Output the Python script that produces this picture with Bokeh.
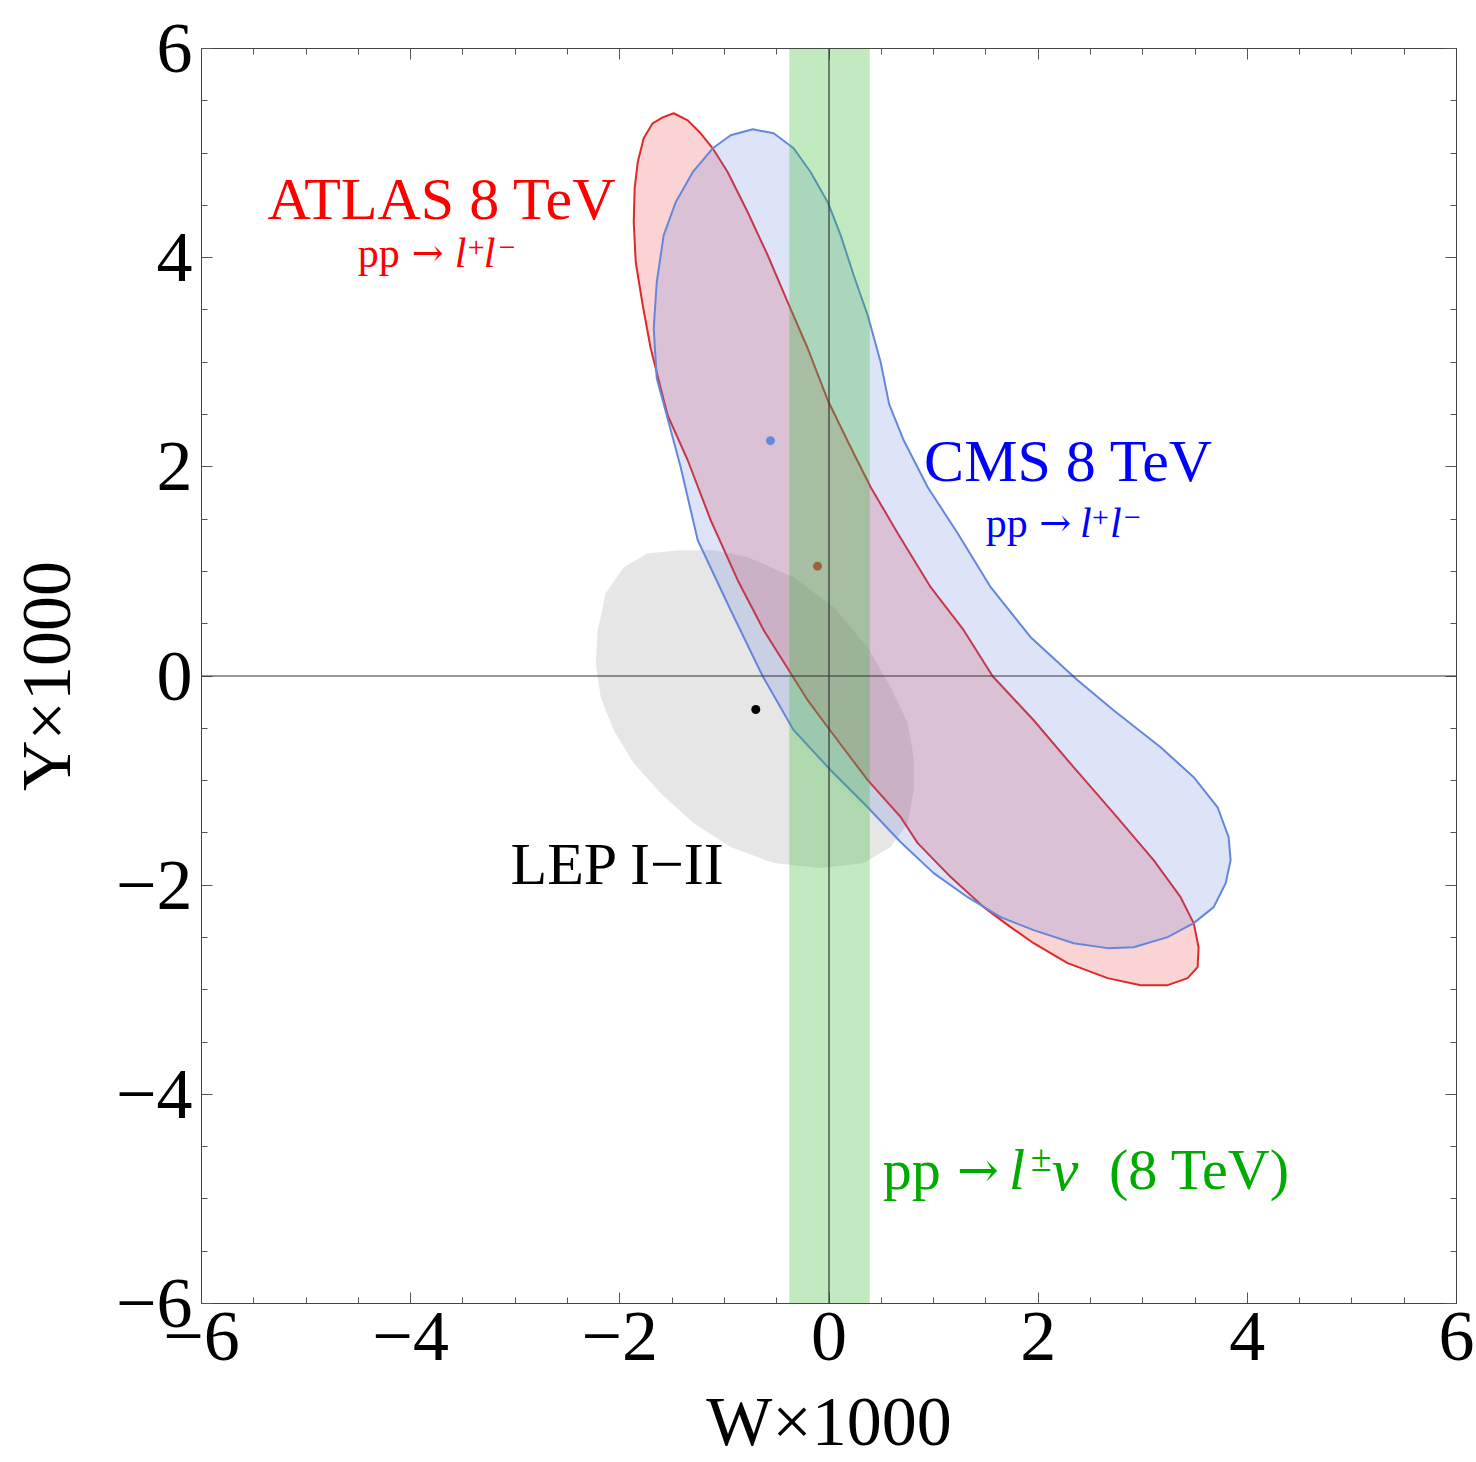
from bokeh.plotting import figure
from bokeh.models import (Range1d, FixedTicker, LinearAxis, Span, BoxAnnotation,
                          CustomLabelingPolicy)
from bokeh.core.properties import value
from bokeh.embed import file_html
from bokeh.resources import INLINE

# ---------------- data ----------------
atlas_w = [-1.485, -1.590, -1.686, -1.772, -1.829, -1.858, -1.867, -1.848, -1.781, -1.705,
           -1.609, -1.543, -1.351, -1.131, -0.873, -0.624, -0.366, -0.204, -0.012, 0.370,
           0.686, 0.848, 1.164, 1.479, 1.737, 1.957, 2.282, 2.664, 2.980, 3.238,
           3.429, 3.525, 3.534, 3.487, 3.362, 3.104, 2.721, 2.339, 1.957, 1.565,
           1.288, 0.972, 0.657, 0.399, 0.207, -0.012, -0.204, -0.395, -0.586, -0.777,
           -0.968, -1.112, -1.227, -1.351]
atlas_y = [5.381, 5.342, 5.285, 5.141, 4.912, 4.664, 4.338, 3.956, 3.545, 3.134,
           2.751, 2.493, 2.063, 1.489, 0.916, 0.438, 0.027, -0.231, -0.490, -0.996,
           -1.350, -1.598, -1.923, -2.210, -2.401, -2.555, -2.746, -2.889, -2.956, -2.956,
           -2.889, -2.784, -2.593, -2.363, -2.115, -1.761, -1.312, -0.872, -0.423, -0.002,
           0.438, 0.849, 1.365, 1.805, 2.187, 2.637, 3.134, 3.574, 4.023, 4.434,
           4.817, 5.046, 5.189, 5.313]

cms_w = [-0.729, -0.940, -1.112, -1.303, -1.466, -1.581, -1.647, -1.676, -1.647, -1.590,
         -1.418, -1.255, -0.940, -0.634, -0.338, 0.016, 0.370, 0.686, 1.001, 1.326,
         1.641, 1.957, 2.339, 2.664, 2.913, 3.238, 3.487, 3.678, 3.793, 3.840,
         3.821, 3.716, 3.487, 3.171, 2.721, 2.377, 1.928, 1.546, 1.230, 0.944,
         0.714, 0.575, 0.494, 0.370, 0.236, 0.112, -0.012, -0.175, -0.338, -0.529]
cms_y = [5.228, 5.170, 5.046, 4.817, 4.530, 4.214, 3.765, 3.325, 2.847, 2.637,
         1.996, 1.298, 0.629, -0.002, -0.518, -0.901, -1.255, -1.590, -1.885, -2.115,
         -2.306, -2.430, -2.555, -2.602, -2.593, -2.497, -2.363, -2.210, -1.981, -1.761,
         -1.541, -1.255, -0.968, -0.681, -0.327, -0.040, 0.371, 0.849, 1.365, 1.805,
         2.254, 2.600, 3.000, 3.449, 3.832, 4.214, 4.530, 4.817, 5.046, 5.189]

lep_w = [-1.418, -1.733, -1.963, -2.135, -2.211, -2.230, -2.183, -2.058, -1.867, -1.609,
         -1.294, -0.940, -0.529, -0.079, 0.332, 0.589, 0.752, 0.809, 0.809, 0.752,
         0.589, 0.370, 0.045, -0.338, -0.777, -1.103]
lep_y = [1.203, 1.174, 1.040, 0.791, 0.438, 0.122, -0.203, -0.518, -0.834, -1.121,
         -1.408, -1.636, -1.789, -1.837, -1.789, -1.636, -1.408, -1.092, -0.777, -0.452,
         -0.107, 0.275, 0.658, 0.945, 1.136, 1.203]

best_w = [-0.11, -0.56, -0.70]          # ATLAS, CMS, LEP best-fit points
best_y = [1.05, 2.25, -0.32]
best_colors = ["#c84040", "#6688dd", "#000000"]

wlnu_band = [-0.38, 0.39]               # pp -> l nu allowed W range

tick_values = [-6, -4, -2, 0, 2, 4, 6]
tick_labels = ["\u22126", "\u22124", "\u22122", "0", "2", "4", "6"]
minor_values = [-5.5, -5, -4.5, -3.5, -3, -2.5, -1.5, -1, -0.5,
                0.5, 1, 1.5, 2.5, 3, 3.5, 4.5, 5, 5.5]

FONT = value("Liberation Serif")

# ---------------- figure ----------------
p = figure(width=1476, height=1462, x_range=Range1d(-6, 6), y_range=Range1d(-6, 6),
           output_backend="svg", toolbar_location=None,
           min_border_left=201, min_border_right=20, min_border_top=48, min_border_bottom=159)
p.xgrid.visible = False
p.ygrid.visible = False
p.outline_line_color = "#444444"
p.outline_line_width = 1
p.background_fill_color = "white"
p.border_fill_color = "white"

overrides = {v: l for v, l in zip(tick_values, tick_labels)}


def style_axis(ax, show_labels):
    ax.ticker = FixedTicker(ticks=tick_values, minor_ticks=minor_values)
    ax.major_tick_in = 11
    ax.major_tick_out = 0
    ax.minor_tick_in = 6
    ax.minor_tick_out = 0
    ax.major_tick_line_color = "#555555"
    ax.minor_tick_line_color = "#555555"
    ax.axis_line_color = "#444444"
    if show_labels:
        ax.major_label_overrides = overrides
        ax.major_label_text_font = "Liberation Serif"
        ax.major_label_text_font_size = "72px"
        ax.major_label_text_color = "black"
        ax.axis_label_text_font = "Liberation Serif"
        ax.axis_label_text_font_size = "70px"
        ax.axis_label_text_font_style = "normal"
        ax.axis_label_text_color = "black"
    else:
        ax.major_label_policy = CustomLabelingPolicy(code="return []")
        ax.major_label_text_font_size = "8px"
        ax.major_label_standoff = 0


style_axis(p.xaxis[0], True)
style_axis(p.yaxis[0], True)
p.xaxis[0].axis_label = "W\u00d71000"
p.yaxis[0].axis_label = "Y\u00d71000"
p.xaxis[0].major_label_standoff = 9
p.xaxis[0].axis_label_standoff = 20
p.yaxis[0].major_label_standoff = 9
p.yaxis[0].axis_label_standoff = 28

top_ax = LinearAxis()
right_ax = LinearAxis()
style_axis(top_ax, False)
style_axis(right_ax, False)
p.add_layout(top_ax, "above")
p.add_layout(right_ax, "right")

# ---------------- regions ----------------
p.patch(lep_w, lep_y, fill_color="#808080", fill_alpha=0.2, line_color=None)
p.patch(atlas_w, atlas_y, fill_color="#e62828", fill_alpha=0.2,
        line_color="#e02828", line_width=2)
p.patch(cms_w, cms_y, fill_color="#5a78dc", fill_alpha=0.2,
        line_color="#6487dc", line_width=2)

p.scatter(best_w, best_y, size=9, fill_color=best_colors, line_color=None)


# ---------------- labels ----------------
def label(x, y, s, color, size, italic=False, align="left", font=FONT):
    p.text(x=[x], y=[y], text=[s], text_font=font, text_font_size=size,
           text_font_style="italic" if italic else "normal", text_color=color,
           text_align=align, text_baseline="alphabetic")


RED, BLUE, GREEN = "#ff0000", "#0000ff", "#00aa00"
ARROWFONT = value("DejaVu Serif")

label(-3.70, 4.564, "ATLAS 8 TeV", RED, "60px", align="center")
label(-4.506, 4.042, "pp", RED, "42px")
label(-3.990, 4.042, "\u2192", RED, "38px", font=ARROWFONT)
label(-3.578, 4.042, "l", RED, "42px", italic=True)
label(-3.454, 4.10, "+", RED, "30px")
label(-3.301, 4.042, "l", RED, "42px", italic=True)
label(-3.158, 4.10, "\u2212", RED, "30px")

label(2.292, 2.059, "CMS 8 TeV", BLUE, "60px", align="center")
label(1.498, 1.460, "pp", BLUE, "42px")
label(2.010, 1.460, "\u2192", BLUE, "38px", font=ARROWFONT)
label(2.400, 1.460, "l", BLUE, "42px", italic=True)
label(2.514, 1.52, "+", BLUE, "30px")
label(2.686, 1.460, "l", BLUE, "42px", italic=True)
label(2.820, 1.52, "\u2212", BLUE, "30px")

label(-2.015, -1.794, "LEP I\u2212II", "black", "60px", align="center")

label(0.513, -4.72, "pp", GREEN, "58px")
label(1.223, -4.72, "\u2192", GREEN, "50px", font=ARROWFONT)
label(1.721, -4.72, "l", GREEN, "58px", italic=True)
label(1.93, -4.61, "\u00b1", GREEN, "38px")
label(2.13, -4.72, "\u03bd", GREEN, "60px", italic=True)
label(2.677, -4.72, "(8 TeV)", GREEN, "58px")

# ---------------- band and zero lines ----------------
p.add_layout(BoxAnnotation(left=wlnu_band[0], right=wlnu_band[1], fill_color="#33bb33",
                           fill_alpha=0.3, line_color=None))
p.add_layout(Span(location=0, dimension="height", line_color="#333333", line_width=1.2))
p.add_layout(Span(location=0, dimension="width", line_color="#333333", line_width=1.2))

open("out.html", "w").write(file_html(p, INLINE))
